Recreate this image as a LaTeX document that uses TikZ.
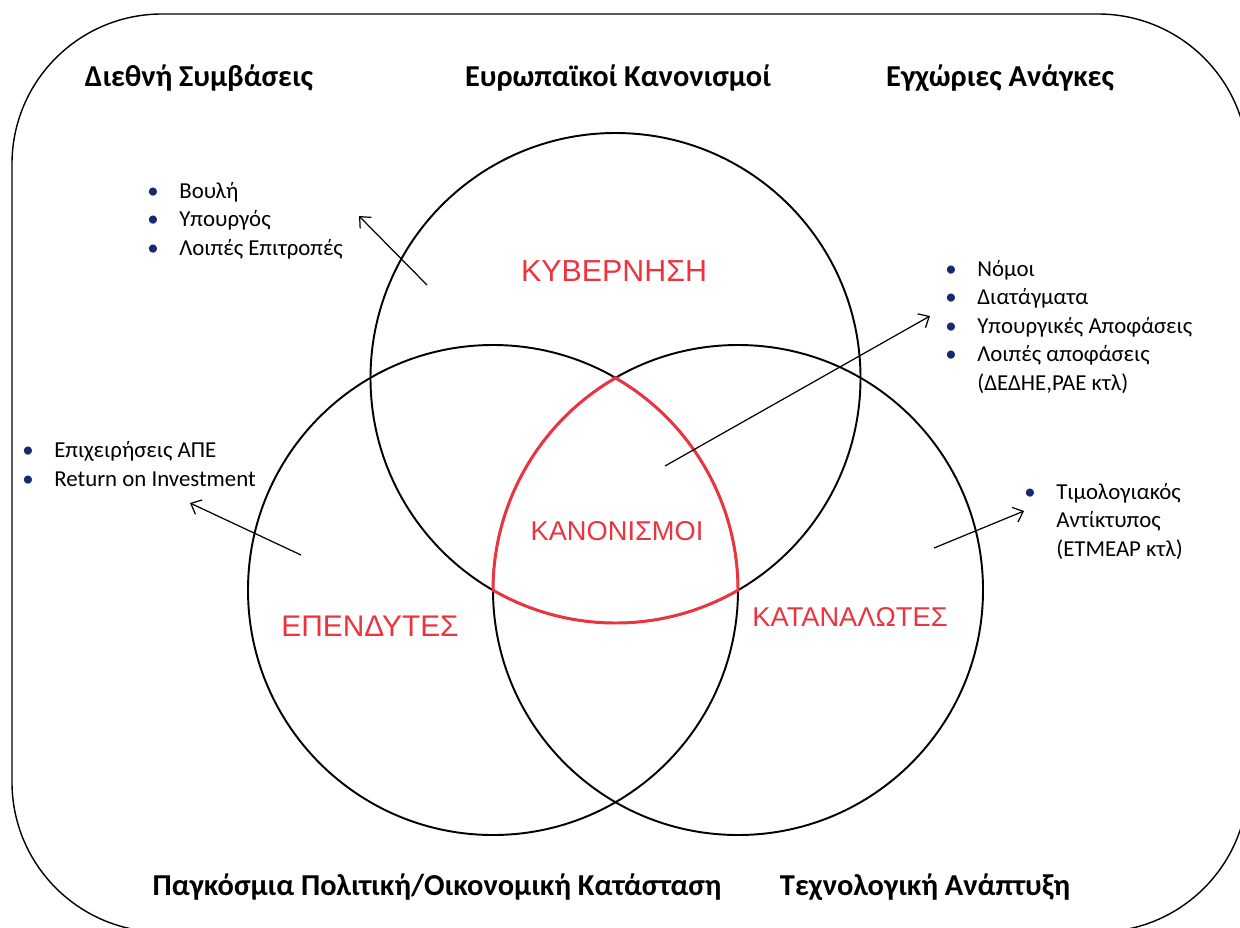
\documentclass[tikz,border=0pt]{standalone}
\usepackage{fontspec}
\setmainfont{Carlito}
\newfontfamily\arialfont{Liberation Sans}
\usepackage{tikz}
\usetikzlibrary{arrows.meta}

\definecolor{vennred}{RGB}{236,52,62}
\definecolor{dotblue}{RGB}{22,40,110}
\newcommand{\blt}{\makebox[0.64cm][l]{\textcolor{dotblue}{\textbullet}}}

\begin{document}
\begin{tikzpicture}
	[x=0.02cm, y=-0.02cm, >={Straight Barb[length=5pt,width=9pt]},
	 ring/.style={line width=1.1pt},
	 heading/.style={anchor=base, font=\fontsize{17.3}{20}\selectfont\bfseries},
	 group/.style={anchor=base, text=vennred, font=\arialfont\fontsize{#1}{20}\selectfont},
	 list/.style={anchor=base west, align=left, inner sep=0pt, font=\fontsize{13}{16.2}\selectfont},
	 pointer/.style={->, line width=0.7pt}]
   \useasboundingbox (0,0) rectangle (1240,927);
   \draw[line width=0.8pt, rounded corners=3cm] (12,14) rectangle (1248,932);
   % circle centres
   \coordinate (c_gov) at (615.5,378);
   \coordinate (c_inv) at (493,590);
   \coordinate (c_con) at (738,590);
   \draw[ring] (c_gov) circle[radius=245];
   \draw[ring] (c_inv) circle[radius=245];
   \draw[ring] (c_con) circle[radius=245];
   \draw[vennred, line width=1.7pt] (c_gov)
       arc[start angle=240, end angle=180, radius=245]
       arc[start angle=120, end angle=60, radius=245]
       arc[start angle=0, end angle=-60, radius=245] -- cycle;
   % headings
   \node[heading] (h_int) at (199,86) {Διεθνή Συμβάσεις};
   \node[heading] (h_eu) at (618,86) {Ευρωπαϊκοί Κανονισμοί};
   \node[heading] (h_loc) at (1000,86) {Εγχώριες Ανάγκες};
   \node[heading] (h_glob) at (437,895) {Παγκόσμια Πολιτική/Οικονομική Κατάσταση};
   \node[heading] (h_tech) at (925,895) {Τεχνολογική Ανάπτυξη};
   % groups
   \node[group=17.3] (g_gov) at (614,281) {ΚΥΒΕΡΝΗΣΗ};
   \node[group=15.5] (g_reg) at (617,540) {ΚΑΝΟΝΙΣΜΟΙ};
   \node[group=17] (g_inv) at (370,636) {ΕΠΕΝΔΥΤΕΣ};
   \node[group=15.5] (g_con) at (850,626) {ΚΑΤΑΝΑΛΩΤΕΣ};
   % lists (anchored at the last line)
   \node[list] (l_gov) at (147,255) {\blt Βουλή\\ \blt Υπουργός\\ \blt Λοιπές Επιτροπές};
   \node[list] (l_reg) at (945,390) {\blt Νόμοι\\ \blt Διατάγματα\\ \blt Υπουργικές Αποφάσεις\\
       \blt Λοιπές αποφάσεις\\ \hspace*{0.64cm}(ΔΕΔΗΕ,ΡΑΕ κτλ)};
   \node[list] (l_inv) at (22,486) {\blt Επιχειρήσεις ΑΠΕ\\ \blt Return on Investment};
   \node[list] (l_con) at (1024,556) {\blt Τιμολογιακός\\ \hspace*{0.64cm}Αντίκτυπος\\
       \hspace*{0.64cm}(ΕΤΜΕΑΡ κτλ)};
   % pointers
   \coordinate (a_gov) at (427,285);
   \coordinate (t_gov) at (359,216);
   \coordinate (a_reg) at (665,466);
   \coordinate (t_reg) at (930,316);
   \coordinate (a_inv) at (301,555);
   \coordinate (t_inv) at (190,503);
   \coordinate (a_con) at (934,548);
   \coordinate (t_con) at (1024,511);
   \draw[pointer] (a_gov) -- (t_gov);
   \draw[pointer] (a_reg) -- (t_reg);
   \draw[pointer] (a_inv) -- (t_inv);
   \draw[pointer] (a_con) -- (t_con);
\end{tikzpicture}
\end{document}
